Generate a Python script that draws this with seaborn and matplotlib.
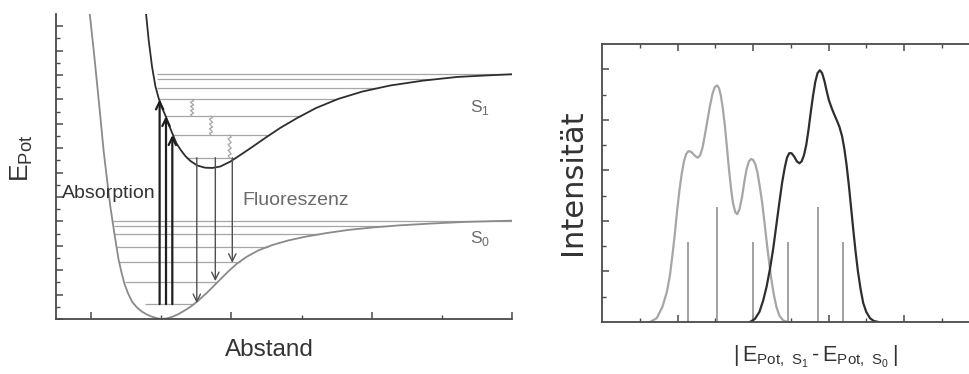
import numpy as np
import matplotlib
matplotlib.use("Agg")
import matplotlib.pyplot as plt
import seaborn as sns

# =============================================================================
# Data
# =============================================================================
# --- left panel: potential curves, x = Abstand, y = E_Pot ---
s0_x = [-0.020, 0.037, 0.085, 0.132, 0.179, 0.228, 0.275, 0.332, 0.393, 0.432, 0.474,
        0.524, 0.584, 0.655, 0.726, 0.798, 0.869, 0.937, 1.001, 1.080, 1.158, 1.244,
        1.329, 1.422, 1.514, 1.657, 1.799, 1.942, 2.070, 2.212, 2.383, 2.582, 2.811,
        3.067, 3.352, 3.665, 4.007, 4.406, 4.833, 5.332, 6.000]
s0_y = [12.53, 11.02, 9.66, 8.29, 6.89, 5.70, 4.60, 3.51, 2.42, 1.93, 1.46,
        1.07, 0.71, 0.47, 0.30, 0.18, 0.094, 0.033, 0.0, 0.025, 0.09, 0.20,
        0.34, 0.51, 0.72, 1.09, 1.50, 1.91, 2.25, 2.54, 2.81, 3.03, 3.22,
        3.38, 3.52, 3.65, 3.75, 3.84, 3.91, 3.98, 4.03]

s1_x = [0.783, 0.821, 0.869, 0.916, 0.963, 1.016, 1.068, 1.115, 1.162, 1.215, 1.272,
        1.343, 1.415, 1.514, 1.628, 1.728, 1.842, 1.984, 2.127, 2.297, 2.482, 2.696,
        2.939, 3.209, 3.523, 3.865, 4.264, 4.734, 5.218, 5.688, 6.000]
s1_y = [12.53, 11.43, 10.34, 9.55, 9.05, 8.63, 8.28, 7.91, 7.58, 7.21, 6.95,
        6.68, 6.48, 6.29, 6.20, 6.19, 6.25, 6.45, 6.72, 7.05, 7.42, 7.83,
        8.24, 8.65, 9.02, 9.32, 9.57, 9.77, 9.92, 9.99, 10.03]

# vibrational levels (height, start, end)
s0_level_y = [4.03, 3.81, 3.48, 2.95, 2.35, 1.52, 0.61]
s0_level_start = [0.31, 0.32, 0.33, 0.36, 0.40, 0.49, 0.77]
s0_level_end = [6.00, 4.22, 3.27, 2.52, 2.12, 1.80, 1.47]

s1_level_y = [10.04, 9.82, 9.48, 9.00, 8.32, 7.54, 6.61]
s1_level_start = [0.94, 0.94, 0.94, 0.96, 1.06, 1.16, 1.36]
s1_level_end = [6.00, 4.84, 4.08, 3.51, 2.99, 2.54, 2.04]

# absorption (up) and fluorescence (down) transitions
absorption_x = [0.977, 1.068, 1.158]
absorption_from = 0.61
absorption_to = [9.00, 8.32, 7.54]
fluorescence_x = [1.507, 1.771, 2.013]
fluorescence_from = 6.61
fluorescence_to = [0.65, 1.55, 2.30]

# vibrational relaxation (wavy lines)
relax_x = [1.44, 1.71, 1.975]
relax_top = [9.00, 8.32, 7.54]
relax_bottom = [8.32, 7.54, 6.61]

# --- right panel: spectra ---
emission_x = [1.27, 1.45, 1.60, 1.72, 1.80, 1.87, 1.93, 1.99, 2.05, 2.11, 2.17, 2.23,
              2.29, 2.35, 2.41, 2.48, 2.54, 2.60, 2.66, 2.72, 2.79, 2.86, 2.93, 2.99,
              3.05, 3.10, 3.15, 3.20, 3.26, 3.31, 3.36, 3.42, 3.47, 3.53, 3.58, 3.64,
              3.71, 3.77, 3.83, 3.89, 3.95, 4.00, 4.06, 4.12, 4.18, 4.24, 4.30, 4.36,
              4.42, 4.48, 4.55, 4.62, 4.70, 4.80, 4.93]
emission_y = [0.00, 0.15, 0.60, 1.20, 1.85, 2.70, 3.50, 4.40, 5.20, 5.85, 6.35, 6.65,
              6.76, 6.74, 6.66, 6.55, 6.50, 6.60, 6.88, 7.35, 7.95, 8.55, 9.05, 9.30,
              9.36, 9.25, 8.95, 8.45, 7.70, 6.90, 6.10, 5.25, 4.70, 4.35, 4.27, 4.45,
              4.95, 5.55, 6.05, 6.35, 6.45, 6.42, 6.25, 5.90, 5.35, 4.75, 4.00, 3.20,
              2.45, 1.75, 1.10, 0.60, 0.25, 0.06, 0.00]

absorb_x = [3.92, 4.05, 4.17, 4.27, 4.36, 4.45, 4.54, 4.62, 4.70, 4.77, 4.84, 4.90,
            4.96, 5.02, 5.09, 5.16, 5.23, 5.29, 5.35, 5.41, 5.47, 5.53, 5.59, 5.65,
            5.71, 5.77, 5.83, 5.89, 5.95, 6.01, 6.08, 6.15, 6.22, 6.29, 6.36, 6.42,
            6.48, 6.54, 6.60, 6.66, 6.72, 6.78, 6.85, 6.92, 7.00, 7.10, 7.20, 7.32]
absorb_y = [0.00, 0.12, 0.40, 0.85, 1.40, 2.10, 2.95, 3.85, 4.75, 5.50, 6.10, 6.50,
            6.68, 6.68, 6.55, 6.36, 6.28, 6.36, 6.60, 7.00, 7.60, 8.30, 8.95, 9.50,
            9.85, 9.96, 9.85, 9.55, 9.15, 8.78, 8.48, 8.22, 7.98, 7.72, 7.35, 6.85,
            6.20, 5.40, 4.50, 3.60, 2.75, 2.00, 1.30, 0.75, 0.40, 0.15, 0.04, 0.00]

stick_x = [2.29, 3.05, 4.01, 4.94, 5.73, 6.38]
stick_h = [3.17, 4.56, 3.17, 3.17, 4.56, 3.17]

# =============================================================================
# Style
# =============================================================================
sns.set_theme(style="white")
plt.rcParams['font.family'] = ['Liberation Sans', 'DejaVu Sans']
plt.rcParams['mathtext.fontset'] = 'custom'
plt.rcParams['mathtext.rm'] = 'Liberation Sans'

SPINE = '#4a4a4a'
DARK = '#2e2e2e'
MID = '#8a8a8a'
LIGHT = '#a6a6a6'

fig = plt.figure(figsize=(9.69, 3.74), dpi=100)
ax1 = fig.add_axes([56 / 969, 55 / 374, 456 / 969, 305 / 374])
ax2 = fig.add_axes([602 / 969, 52 / 374, 377.5 / 969, 278 / 374])


def style_axes(ax, all_sides):
    for side, spine in ax.spines.items():
        spine.set_color(SPINE)
        spine.set_linewidth(1.3)
        if not all_sides and side in ('top', 'right'):
            spine.set_visible(False)
    ax.tick_params(which='both', direction='in', colors=SPINE,
                   labelleft=False, labelbottom=False,
                   top=all_sides, right=all_sides, left=True, bottom=True)
    ax.tick_params(which='major', length=5, width=1.1)
    ax.tick_params(which='minor', length=3, width=1.0)


# =============================================================================
# Left panel: potential curves
# =============================================================================
ax1.set_xlim(-0.5, 6)
ax1.set_ylim(0, 12.5)
ax1.set_xticks([0, 2, 4, 6])
ax1.set_xticks([1, 3, 5], minor=True)
ax1.set_yticks(range(0, 13))
ax1.set_yticks(np.arange(0.5, 12.5, 1.0), minor=True)
style_axes(ax1, all_sides=False)

for y, x0, x1 in zip(s0_level_y, s0_level_start, s0_level_end):
    ax1.hlines(y, x0, x1, color=LIGHT, lw=0.9)
for y, x0, x1 in zip(s1_level_y, s1_level_start, s1_level_end):
    ax1.hlines(y, x0, x1, color=LIGHT, lw=0.9)

sns.lineplot(x=s0_x, y=s0_y, ax=ax1, color=MID, lw=1.3, sort=False, estimator=None)
sns.lineplot(x=s1_x, y=s1_y, ax=ax1, color=DARK, lw=1.3, sort=False, estimator=None)

for x, y1 in zip(absorption_x, absorption_to):
    ax1.annotate('', xy=(x, y1), xytext=(x, absorption_from),
                 arrowprops=dict(arrowstyle='->,head_length=0.45,head_width=0.22',
                                 color='#1e1e1e', lw=1.6, shrinkA=0, shrinkB=0))
for x, y1 in zip(fluorescence_x, fluorescence_to):
    ax1.annotate('', xy=(x, y1), xytext=(x, fluorescence_from),
                 arrowprops=dict(arrowstyle='->,head_length=0.45,head_width=0.22',
                                 color='#505050', lw=1.0, shrinkA=0, shrinkB=0))

# small zigzags for vibrational relaxation
zig = np.array([0, 1, -1] * 4 + [0])
for x, top, bot in zip(relax_x, relax_top, relax_bottom):
    yy = np.linspace(top, bot, len(zig))
    ax1.plot(x + 0.022 * zig, yy, color=LIGHT, lw=0.9)

ax1.text(0.25, 5.16, 'Absorption', fontsize=14, color='#333333', ha='center', va='center')
ax1.text(2.91, 4.84, 'Fluoreszenz', fontsize=14, color='#6a6a6a', ha='center', va='center')
ax1.text(5.55, 8.65, r'S$_{\mathregular{1}}$', fontsize=12.5, color='#6a6a6a', ha='center', va='center')
ax1.text(5.55, 3.28, r'S$_{\mathregular{0}}$', fontsize=12.5, color='#6a6a6a', ha='center', va='center')

fig.text(269 / 969, 1 - 350 / 374, 'Abstand', fontsize=17.5, color='#333333',
         ha='center', va='center')
fig.text(22 / 969, 1 - 158 / 374, r'E$_{\mathregular{Pot}}$', fontsize=19, color='#333333',
         ha='center', va='center', rotation=90)

# =============================================================================
# Right panel: spectra
# =============================================================================
ax2.set_xlim(0, 10)
ax2.set_ylim(0, 11)
ax2.set_xticks([2, 4, 6, 8])
ax2.set_xticks([1, 3, 5, 7, 9], minor=True)
ax2.set_yticks([2, 4, 6, 8, 10])
ax2.set_yticks([1, 3, 5, 7, 9], minor=True)
style_axes(ax2, all_sides=True)

ax2.vlines(stick_x, 0, stick_h, color='#9a9a9a', lw=1.3)
sns.lineplot(x=emission_x, y=emission_y, ax=ax2, color=LIGHT, lw=1.6, sort=False, estimator=None)
sns.lineplot(x=absorb_x, y=absorb_y, ax=ax2, color=DARK, lw=1.6, sort=False, estimator=None)

fig.text(573 / 969, 1 - 182 / 374, 'Intensität', fontsize=22, color='#333333',
         family=['DejaVu Sans'], ha='center', va='center', rotation=90)
fig.text(815 / 969, 1 - 357 / 374,
         r'$\mathregular{|\,E_{Pot,\ S_1}\,\text{-}\,E_{Pot,\ S_0}\,|}$',
         fontsize=15.5, color='#333333', ha='center', va='center')

fig.savefig('out.png', dpi=100)
